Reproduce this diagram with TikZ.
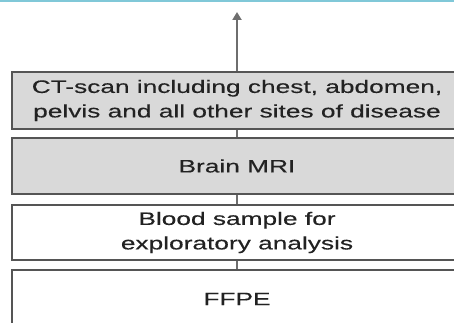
\documentclass[tikz,border=0pt]{standalone}
\usepackage{fontspec}
\setmainfont{Liberation Sans}[FakeStretch=1.46,FakeBold=0.3]
\usetikzlibrary{arrows.meta}
\definecolor{edgegray}{HTML}{555555}
\definecolor{boxfill}{HTML}{D9D9D9}
\definecolor{topline}{HTML}{80C8D8}
\definecolor{txt}{HTML}{222222}
\tikzset{
  stage/.style={draw=edgegray, line width=2pt, minimum width=450pt, inner sep=0pt, align=center, text=txt, font=\fontsize{18}{24.5}\selectfont},
  shaded/.style={stage, fill=boxfill},
  plain/.style={stage, fill=white},
  link/.style={draw=edgegray!85, line width=2pt},
}
\begin{document}
\begin{tikzpicture}[x=1pt,y=-1pt]
\useasboundingbox (0,0) rectangle (454,323);
\clip (0,0) rectangle (454,323);
\fill[white] (0,0) rectangle (454,323);
\fill[topline] (0,0) rectangle (454,1.8);
\coordinate (top) at (237,12);
\node[shaded, minimum height=57pt] (ct) at (237,100.5) {CT-scan including chest, abdomen,\\pelvis and all other sites of disease};
\node[shaded, minimum height=56pt] (mri) at (237,166) {Brain MRI};
\node[plain, minimum height=55pt] (blood) at (237,232.5) {Blood sample for\\exploratory analysis};
\node[plain, minimum height=58pt] (ffpe) at (237,299) {FFPE};
\draw[link, -{Triangle[length=8pt,width=9pt]}] (ct.north) -- (top);
\draw[link] (mri.north) -- (ct.south);
\draw[link] (blood.north) -- (mri.south);
\draw[link] (ffpe.north) -- (blood.south);
\end{tikzpicture}
\end{document}
